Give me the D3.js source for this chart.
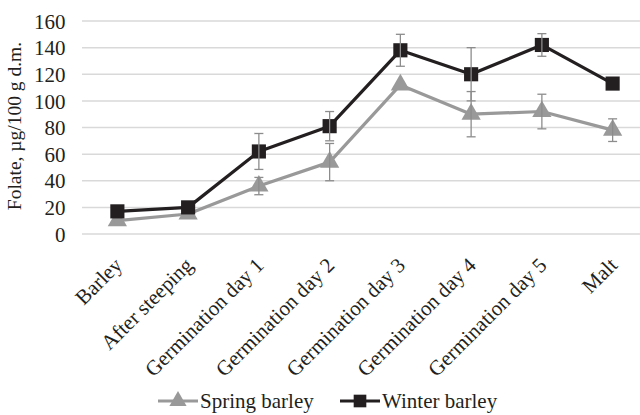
<!DOCTYPE html>
<html><head><meta charset="utf-8">
<script src="https://cdn.jsdelivr.net/npm/d3@7"></script>
<style>body{margin:0;background:#fff}svg{display:block}</style>
</head><body><svg id="c" width="640" height="415"></svg>
<script>
const categories = ["Barley","After steeping","Germination day 1","Germination day 2","Germination day 3","Germination day 4","Germination day 5","Malt"];
const springValues = [10, 15, 36, 54, 112, 90, 92, 78];
const springErrors = [0, 0, 6.5, 14, 0, 17, 13, 8.5];
const winterValues = [17, 20, 62, 81, 138, 120, 142, 113];
const winterErrors = [0, 0, 13.5, 11, 12, 20, 8.5, 0];
const yTicks = [0,20,40,60,80,100,120,140,160];
const seriesNames = ["Spring barley","Winter barley"];

const svg = d3.select("#c");
const font = "'Liberation Serif','Times New Roman',serif";
const x = d3.scaleBand().domain(categories).range([82, 648]);
const y = d3.scaleLinear().domain([0,160]).range([234, 21]);
const cx = d => x(d) + x.bandwidth()/2;

// gridlines
svg.append("g").selectAll("line").data(yTicks).join("line")
  .attr("x1", 82).attr("x2", 640)
  .attr("y1", d => y(d)).attr("y2", d => y(d))
  .attr("stroke", "#d9d9d9").attr("stroke-width", 1.5);

// y axis labels
const yAxis = d3.axisLeft(y).tickValues(yTicks).tickSize(0).tickPadding(0).tickFormat(d3.format("d"));
const ga = svg.append("g").attr("transform","translate(65.5,0)").call(yAxis);
ga.select(".domain").remove();
ga.selectAll("text").attr("font-family", font).attr("font-size", 21).attr("fill","#231f20").attr("dy","0.34em");

// y title
svg.append("text").attr("transform","translate(21,126) rotate(-90)")
  .attr("text-anchor","middle").attr("font-family",font).attr("font-size",19.5).attr("fill","#231f20")
  .text("Folate, µg/100 g d.m.");

// x labels
svg.append("g").selectAll("text").data(categories).join("text")
  .attr("transform", d => `translate(${cx(d)+1.5},${262}) rotate(-45)`)
  .attr("text-anchor","end").attr("font-family",font).attr("font-size",21).attr("fill","#231f20")
  .attr("dy","0.3em")
  .text(d => d);

const series = [
  {name: seriesNames[0], values: springValues, errors: springErrors, color: "#999999", shape: d3.symbolTriangle, size: 160},
  {name: seriesNames[1], values: winterValues, errors: winterErrors, color: "#231f20", shape: d3.symbolSquare, size: 200}
];
const line = d3.line().x((d,i) => cx(categories[i])).y(d => y(d));

series.forEach(s => {
  svg.append("path").datum(s.values).attr("d", line)
    .attr("fill","none").attr("stroke", s.color).attr("stroke-width", 3.2).attr("stroke-linejoin","round");
});
series.forEach(s => {
  svg.append("g").selectAll("path").data(s.values).join("path")
    .attr("d", d3.symbol().type(s.shape).size(s.size))
    .attr("transform", (d,i) => `translate(${cx(categories[i])},${y(d)})`)
    .attr("fill", s.color);
});
// error bars
series.forEach(s => {
  const g = svg.append("g").attr("stroke","#8c8c8c").attr("stroke-width",1.3);
  s.values.forEach((v,i) => {
    const e = s.errors[i]; if (!e) return;
    const xx = cx(categories[i]);
    g.append("line").attr("x1",xx).attr("x2",xx).attr("y1",y(v+e)).attr("y2",y(v-e));
    g.append("line").attr("x1",xx-4.5).attr("x2",xx+4.5).attr("y1",y(v+e)).attr("y2",y(v+e));
    g.append("line").attr("x1",xx-4.5).attr("x2",xx+4.5).attr("y1",y(v-e)).attr("y2",y(v-e));
  });
});

// legend
const legend = [{x:158, s:series[0]},{x:340, s:series[1]}];
legend.forEach(l => {
  const g = svg.append("g").attr("transform",`translate(${l.x},401)`);
  g.append("line").attr("x1",0).attr("x2",40).attr("stroke",l.s.color).attr("stroke-width",3.2);
  g.append("path").attr("d", d3.symbol().type(l.s.shape).size(l.s.size*0.8)).attr("transform","translate(20,0)").attr("fill",l.s.color);
  g.append("text").attr("x",42).attr("dy","0.34em").attr("font-family",font).attr("font-size",21).attr("fill","#231f20").text(l.s.name);
});
</script></body></html>
